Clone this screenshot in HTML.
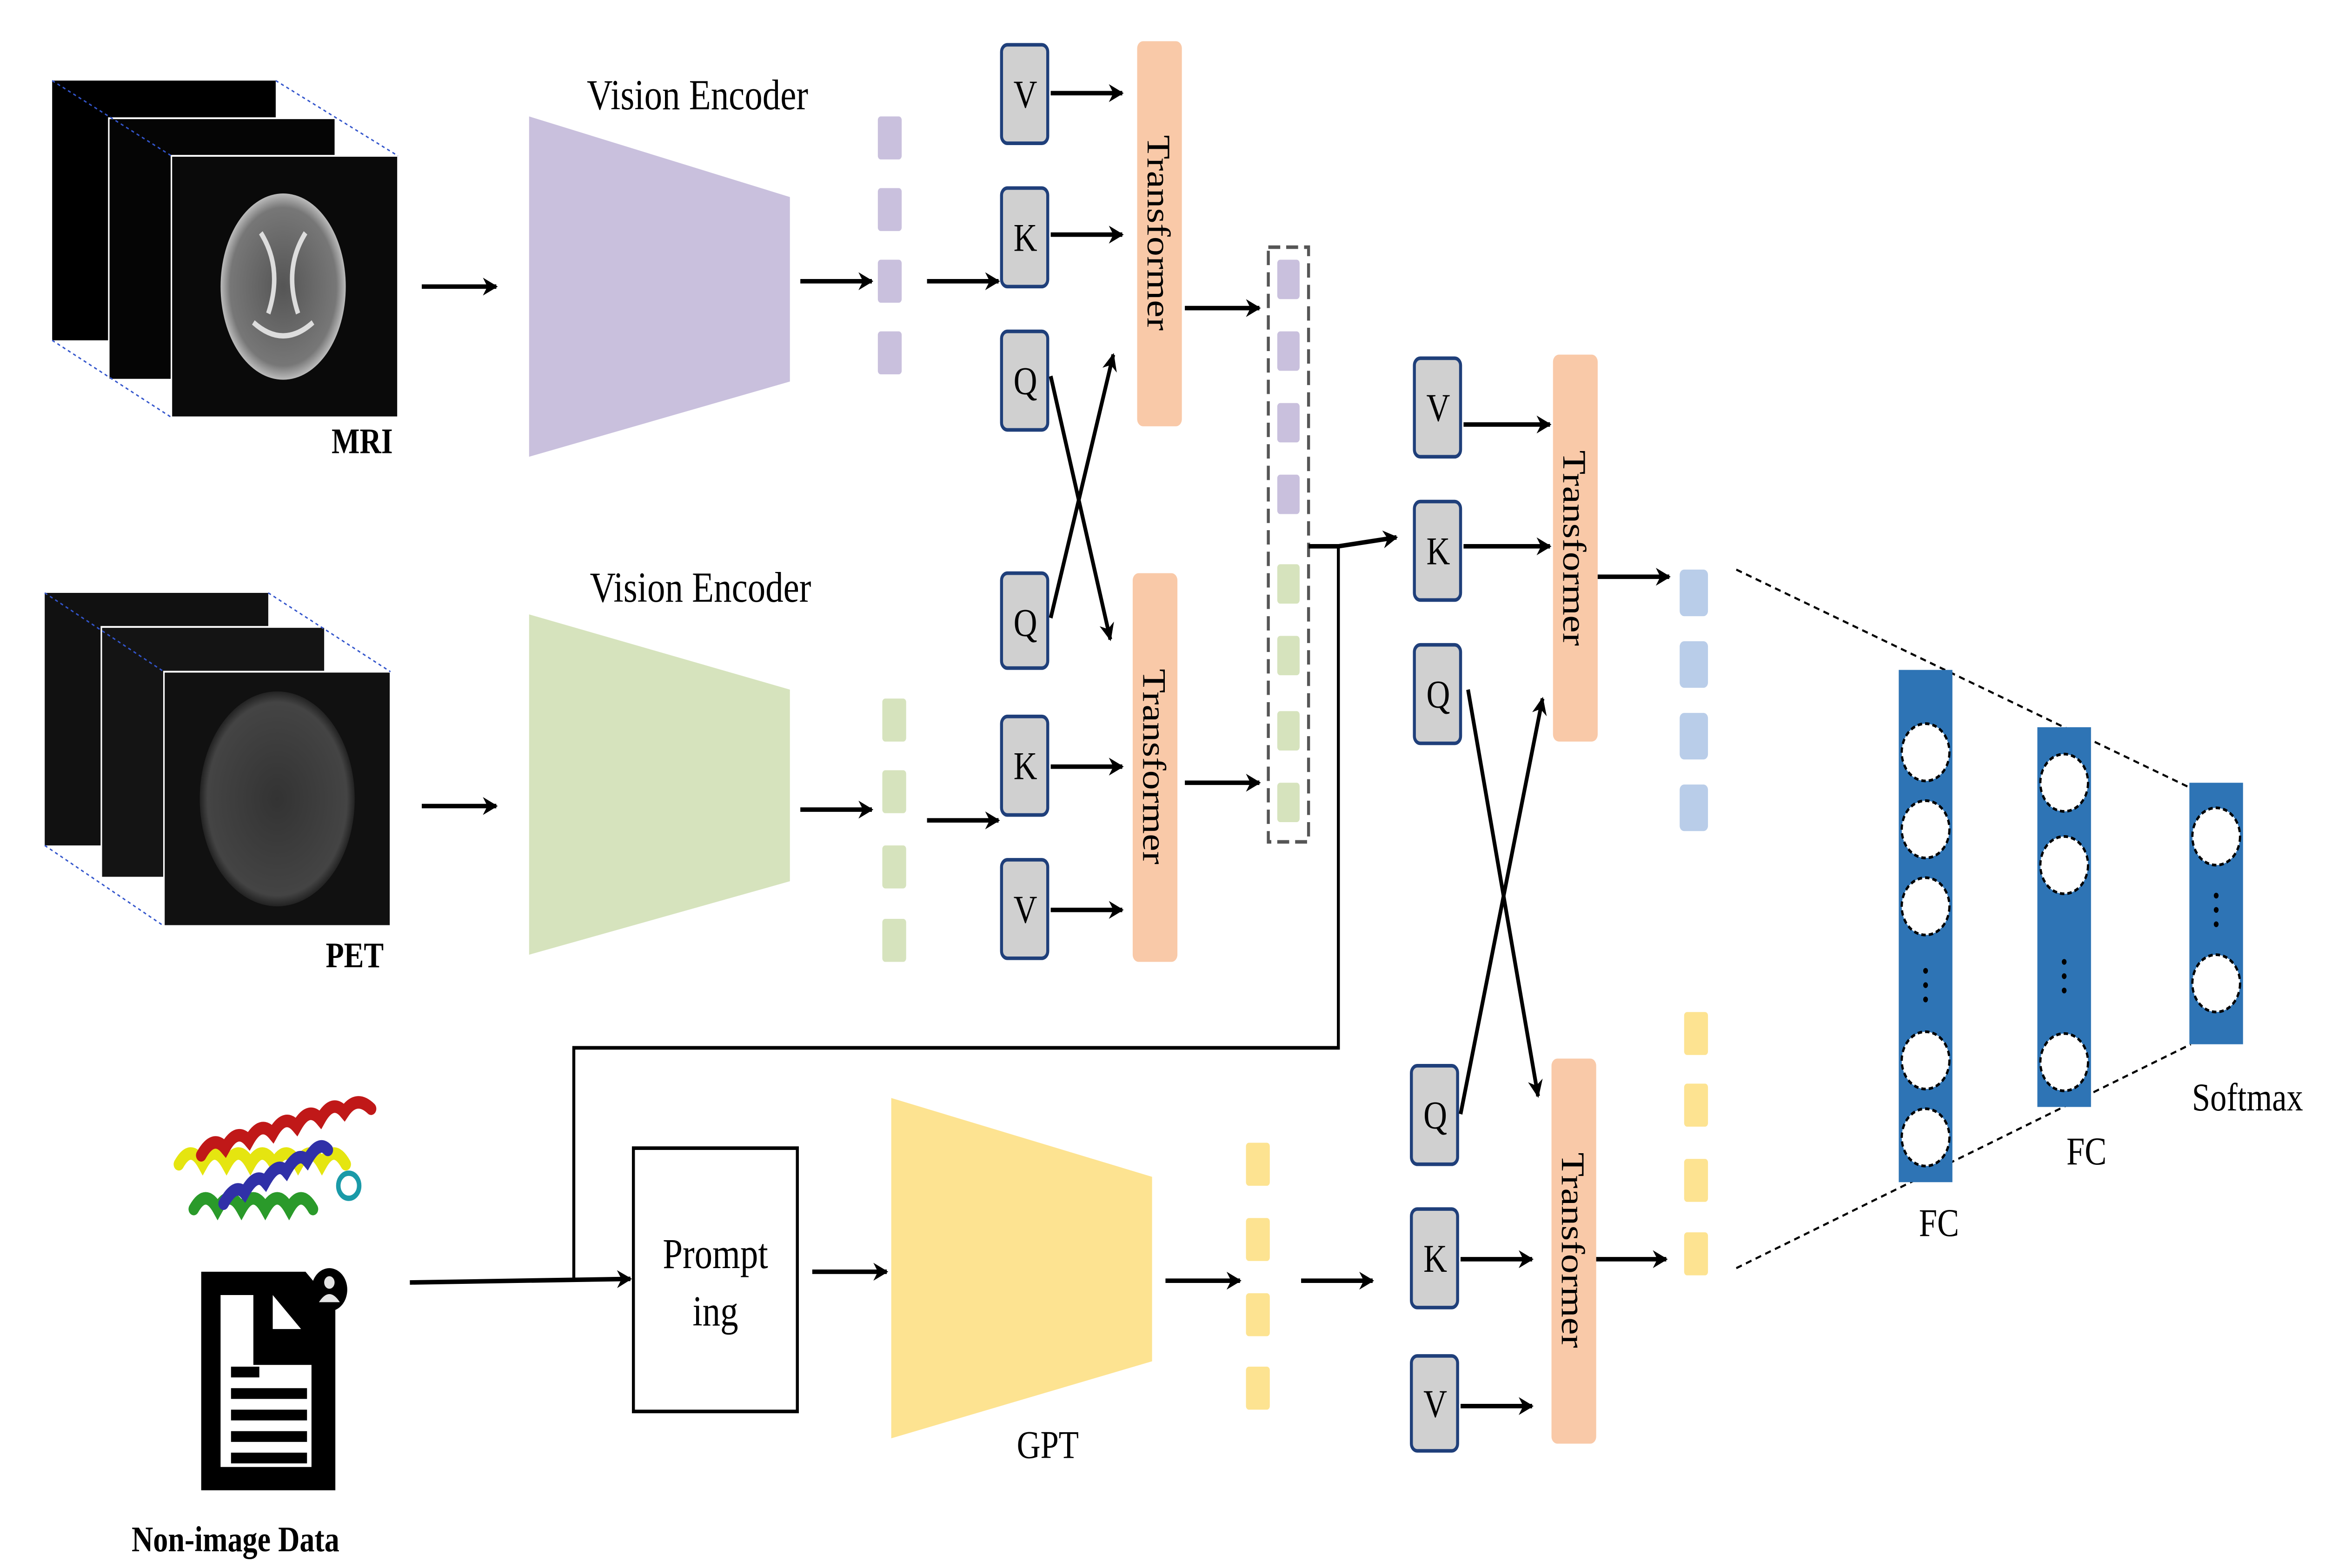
<!DOCTYPE html>
<html><head><meta charset="utf-8"><style>
html,body{margin:0;padding:0;background:#fff;width:100%;height:100%;overflow:hidden;}
svg{display:block;position:absolute;left:0;top:0;width:100vw;height:100vh;}
text{font-family:"Liberation Serif",serif;fill:#000;}
</style></head><body>
<svg viewBox="0 0 1560 875.4" preserveAspectRatio="none" xmlns="http://www.w3.org/2000/svg">
<defs>
<marker id="ah" markerWidth="10" markerHeight="10" refX="9" refY="5" orient="auto" markerUnits="userSpaceOnUse">
<path d="M0,0 L10,5 L0,10 L3,5 Z" fill="#000"/></marker>
<radialGradient id="brain" cx="50%" cy="50%" r="50%"><stop offset="0" stop-color="#555"/><stop offset="0.85" stop-color="#777"/><stop offset="1" stop-color="#bbb"/></radialGradient>
<radialGradient id="pet" cx="50%" cy="50%" r="50%"><stop offset="0" stop-color="#333"/><stop offset="0.9" stop-color="#444"/><stop offset="1" stop-color="#222"/></radialGradient>
</defs>
<rect width="1560" height="876" fill="#fff"/>
<rect x="35" y="45" width="150" height="145" fill="#000"/>
<rect x="73" y="66" width="152" height="146" fill="#050505" stroke="#fff" stroke-width="1"/>
<rect x="115" y="87" width="152" height="146" fill="#0a0a0a" stroke="#fff" stroke-width="1"/>
<ellipse cx="190" cy="160" rx="42" ry="52" fill="url(#brain)"/>
<path d="M175,130 Q190,150 180,175 M205,130 Q190,150 200,175 M170,180 Q190,195 210,180" stroke="#ddd" stroke-width="3" fill="none"/>
<g stroke="#3355cc" stroke-width="0.8" stroke-dasharray="2,2">
<line x1="35" y1="45" x2="115" y2="87"/><line x1="185" y1="45" x2="267" y2="87"/><line x1="35" y1="190" x2="115" y2="233"/>
</g>
<text x="243" y="253" font-size="20" font-weight="bold" text-anchor="middle">MRI</text>
<rect x="30" y="331" width="150" height="141" fill="#111"/>
<rect x="68" y="350" width="150" height="140" fill="#141414" stroke="#fff" stroke-width="1"/>
<rect x="110" y="375" width="152" height="142" fill="#111" stroke="#fff" stroke-width="1"/>
<ellipse cx="186" cy="446" rx="52" ry="60" fill="url(#pet)"/>
<g stroke="#3355cc" stroke-width="0.8" stroke-dasharray="2,2">
<line x1="30" y1="331" x2="110" y2="375"/><line x1="180" y1="331" x2="262" y2="375"/><line x1="30" y1="472" x2="110" y2="517"/>
</g>
<text x="238" y="540" font-size="20" font-weight="bold" text-anchor="middle">PET</text>
<polygon points="355,65 530,110 530,213 355,255" fill="#c9c0dd"/>
<polygon points="355,343 530,385 530,492 355,533" fill="#d6e3bd"/>
<polygon points="598,613 773,657 773,760 598,803" fill="#fde391"/>
<text x="468" y="61" font-size="24" text-anchor="middle">Vision Encoder</text>
<text x="470" y="336" font-size="24" text-anchor="middle">Vision Encoder</text>
<text x="703" y="814" font-size="22" text-anchor="middle">GPT</text>
<g fill="#c9c0dd"><rect x="589" y="65" width="16" height="24" rx="2"/><rect x="589" y="105" width="16" height="24" rx="2"/><rect x="589" y="145" width="16" height="24" rx="2"/><rect x="589" y="185" width="16" height="24" rx="2"/></g>
<g fill="#d6e3bd"><rect x="592" y="390" width="16" height="24" rx="2"/><rect x="592" y="430" width="16" height="24" rx="2"/><rect x="592" y="472" width="16" height="24" rx="2"/><rect x="592" y="513" width="16" height="24" rx="2"/></g>
<g fill="#fde391"><rect x="836" y="638" width="16" height="24" rx="2"/><rect x="836" y="680" width="16" height="24" rx="2"/><rect x="836" y="722" width="16" height="24" rx="2"/><rect x="836" y="763" width="16" height="24" rx="2"/></g>
<g fill="#fde391"><rect x="1130" y="565" width="16" height="24" rx="2"/><rect x="1130" y="605" width="16" height="24" rx="2"/><rect x="1130" y="647" width="16" height="24" rx="2"/><rect x="1130" y="688" width="16" height="24" rx="2"/></g>
<g fill="#b9cde9"><rect x="1127" y="318" width="19" height="26" rx="3"/><rect x="1127" y="358" width="19" height="26" rx="3"/><rect x="1127" y="398" width="19" height="26" rx="3"/><rect x="1127" y="438" width="19" height="26" rx="3"/></g>
<rect x="851" y="138" width="27" height="332" fill="none" stroke="#555" stroke-width="2" stroke-dasharray="8,4"/>
<g fill="#c9c0dd"><rect x="857" y="145" width="15" height="22" rx="2"/><rect x="857" y="185" width="15" height="22" rx="2"/><rect x="857" y="225" width="15" height="22" rx="2"/><rect x="857" y="265" width="15" height="22" rx="2"/></g>
<g fill="#d6e3bd"><rect x="857" y="315" width="15" height="22" rx="2"/><rect x="857" y="355" width="15" height="22" rx="2"/><rect x="857" y="397" width="15" height="22" rx="2"/><rect x="857" y="437" width="15" height="22" rx="2"/></g>
<g fill="#d0d0d0" stroke="#1f3f7a" stroke-width="2">
<rect x="672" y="25" width="31" height="55" rx="4"/><rect x="672" y="105" width="31" height="55" rx="4"/><rect x="672" y="185" width="31" height="55" rx="4"/>
<rect x="672" y="320" width="31" height="53" rx="4"/><rect x="672" y="400" width="31" height="55" rx="4"/><rect x="672" y="480" width="31" height="55" rx="4"/>
<rect x="949" y="200" width="31" height="55" rx="4"/><rect x="949" y="280" width="31" height="55" rx="4"/><rect x="949" y="360" width="31" height="55" rx="4"/>
<rect x="947" y="595" width="31" height="55" rx="4"/><rect x="947" y="675" width="31" height="55" rx="4"/><rect x="947" y="757" width="31" height="53" rx="4"/>
</g>
<g font-size="22" text-anchor="middle">
<text x="688" y="60">V</text><text x="688" y="140">K</text><text x="688" y="220">Q</text>
<text x="688" y="355">Q</text><text x="688" y="435">K</text><text x="688" y="515">V</text>
<text x="965" y="235">V</text><text x="965" y="315">K</text><text x="965" y="395">Q</text>
<text x="963" y="630">Q</text><text x="963" y="710">K</text><text x="963" y="791">V</text>
</g>
<g fill="#f9c9a8">
<rect x="763" y="23" width="30" height="215" rx="4"/><rect x="760" y="320" width="30" height="217" rx="4"/>
<rect x="1042" y="198" width="30" height="216" rx="4"/><rect x="1041" y="591" width="30" height="215" rx="4"/>
</g>
<g font-size="22" text-anchor="middle">
<text transform="translate(770,130) rotate(90)">Transformer</text>
<text transform="translate(767,428) rotate(90)">Transformer</text>
<text transform="translate(1049,306) rotate(90)">Transformer</text>
<text transform="translate(1048,698) rotate(90)">Transformer</text>
</g>
<g stroke="#000" stroke-width="2.5" fill="none" marker-end="url(#ah)">
<line x1="283" y1="160" x2="333" y2="160"/><line x1="283" y1="450" x2="333" y2="450"/>
<line x1="537" y1="157" x2="585" y2="157"/><line x1="622" y1="157" x2="670" y2="157"/>
<line x1="537" y1="452" x2="585" y2="452"/><line x1="622" y1="458" x2="670" y2="458"/>
<line x1="705" y1="52" x2="753" y2="52"/><line x1="705" y1="131" x2="753" y2="131"/>
<line x1="705" y1="428" x2="753" y2="428"/><line x1="705" y1="508" x2="753" y2="508"/>
<line x1="705" y1="210" x2="745" y2="357"/><line x1="705" y1="345" x2="747" y2="198"/>
<line x1="795" y1="172" x2="845" y2="172"/><line x1="795" y1="437" x2="845" y2="437"/>
<polyline points="878,305 898,305 937,300"/>
<line x1="982" y1="237" x2="1040" y2="237"/><line x1="982" y1="305" x2="1040" y2="305"/>
<line x1="1072" y1="322" x2="1120" y2="322"/>
<line x1="985" y1="385" x2="1032" y2="612"/><line x1="980" y1="622" x2="1035" y2="390"/>
<line x1="980" y1="703" x2="1028" y2="703"/><line x1="980" y1="785" x2="1028" y2="785"/>
<line x1="1071" y1="703" x2="1118" y2="703"/>
<line x1="275" y1="716" x2="423" y2="714"/>
<line x1="545" y1="710" x2="595" y2="710"/>
<line x1="782" y1="715" x2="832" y2="715"/><line x1="873" y1="715" x2="921" y2="715"/>
</g>
<polyline points="898,305 898,585 385,585 385,715" stroke="#000" stroke-width="2" fill="none"/>
<rect x="425" y="641" width="110" height="147" fill="#fff" stroke="#000" stroke-width="2"/>
<text x="480" y="708" font-size="24" text-anchor="middle">Prompt</text>
<text x="480" y="740" font-size="24" text-anchor="middle">ing</text>
<g fill="none" stroke-width="7" stroke-linecap="round">
<path d="M120,650 q8,-12 16,0 q8,-12 16,0 q8,-12 16,0 q8,-12 16,0 q8,-12 16,0 q8,-12 16,0 q8,-12 16,0" stroke="#e5e510"/>
<path d="M135,645 q8,-12 16,-4 q8,-12 16,-4 q8,-12 16,-4 q8,-12 16,-4 q8,-12 16,-4 q8,-12 16,-4 q8,-10 18,-2" stroke="#c01818"/>
<path d="M130,675 q8,-12 16,0 q8,-12 16,0 q8,-12 16,0 q8,-12 16,0 q8,-12 16,0" stroke="#2a9a2a"/>
<path d="M150,672 q8,-12 14,-6 q8,-12 14,-6 q8,-12 14,-6 q8,-12 14,-6 q8,-12 14,-6" stroke="#3030a8"/>
</g>
<circle cx="234" cy="662" r="7" fill="none" stroke="#1a9aa8" stroke-width="3"/>
<path d="M135,710 H205 L225,730 V832 H135 Z" fill="#000"/>
<path d="M148,723 H170 V762 H209 V819 H148 Z" fill="#fff"/>
<path d="M183,723 L202,742 H183 Z" fill="#fff"/>
<g fill="#000"><rect x="155" y="763" width="19" height="6"/><rect x="155" y="775" width="51" height="6"/><rect x="155" y="787" width="51" height="6"/><rect x="155" y="799" width="51" height="6"/><rect x="155" y="811" width="51" height="6"/></g>
<circle cx="221" cy="720" r="12" fill="#000"/>
<circle cx="221" cy="716" r="3.5" fill="#e5e5e5"/><path d="M214,727 q7,-9 14,0 z" fill="#e5e5e5"/>
<text x="158" y="866" font-size="20" font-weight="bold" text-anchor="middle">Non-image Data</text>
<g stroke="#000" stroke-width="1.2" stroke-dasharray="4,3" fill="none">
<line x1="1165" y1="318" x2="1470" y2="440"/><line x1="1165" y1="708" x2="1470" y2="583"/>
</g>
<g fill="#2e74b5"><rect x="1274" y="374" width="36" height="286"/><rect x="1367" y="406" width="36" height="212"/><rect x="1469" y="437" width="36" height="146"/></g>
<g fill="#fff" stroke="#000" stroke-width="1.5" stroke-dasharray="3,2">
<circle cx="1292" cy="420" r="16"/><circle cx="1292" cy="463" r="16"/><circle cx="1292" cy="506" r="16"/><circle cx="1292" cy="592" r="16"/><circle cx="1292" cy="635" r="16"/>
<circle cx="1385" cy="437" r="16"/><circle cx="1385" cy="483" r="16"/><circle cx="1385" cy="593" r="16"/>
<circle cx="1487" cy="467" r="16"/><circle cx="1487" cy="549" r="16"/>
</g>
<g fill="#000"><circle cx="1292" cy="542" r="1.6"/><circle cx="1292" cy="550" r="1.6"/><circle cx="1292" cy="558" r="1.6"/>
<circle cx="1385" cy="537" r="1.6"/><circle cx="1385" cy="545" r="1.6"/><circle cx="1385" cy="553" r="1.6"/>
<circle cx="1487" cy="500" r="1.6"/><circle cx="1487" cy="508" r="1.6"/><circle cx="1487" cy="516" r="1.6"/></g>
<text x="1301" y="690" font-size="22" text-anchor="middle">FC</text>
<text x="1400" y="650" font-size="22" text-anchor="middle">FC</text>
<text x="1508" y="620" font-size="22" text-anchor="middle">Softmax</text>
</svg>
</body></html>
